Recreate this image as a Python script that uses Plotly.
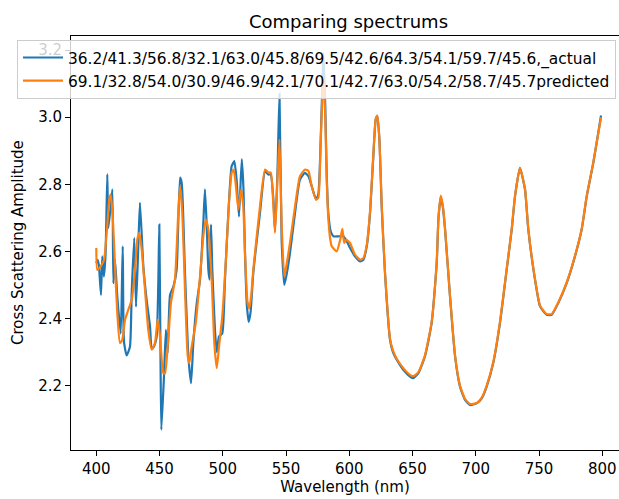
import plotly.graph_objects as go

# Wavelength (nm) / amplitude for the measured ("actual") spectrum
actual_wl = [400, 401, 402, 403.7, 404.7, 406, 407.3, 408.7, 409.5, 411.4, 412.7, 413.5, 414.8,
             416.6, 419.3, 420.9, 421.9, 424, 426.6, 428, 430, 431.4, 433.2, 434.5, 437.2,
             439.8, 442.5, 443.8, 445.5, 447.7, 449, 449.8, 450.7, 451.4, 453.5, 455, 456.4,
             458.3, 461, 463.5, 466.2, 467.5, 470.1, 472.8, 474.9, 476.7, 479.4, 482, 484.6,
             485.9, 487.3, 488.6, 489.6, 490.7, 491.7, 493.8, 495.2, 497, 499.6, 501.7, 504.4,
             507, 509.1, 510.9, 512.8, 515, 516.3, 517.5, 519, 520.5, 522, 524.1, 529.4,
             533.4, 536, 537.9, 540, 541.3, 543.2, 544.8, 546.5, 548.6, 550.4, 553.1, 557.1,
             561, 565, 567.7, 570.3, 573.7, 575.5, 577.4, 579, 579.5, 581, 582.1, 583.4,
             585.3, 587.4, 591.3, 595.3, 598, 600.6, 604.5, 608.5, 611.1, 613.8, 616.4, 619,
             620.9, 622.2, 623.8, 625.6, 628.2, 632.2, 634.5, 637.5, 642.7, 648, 650.6, 654.6,
             659.8, 665.1, 669.1, 670.5, 672.3, 674, 675.7, 679.6, 683.6, 687.5, 691.5, 695.4,
             700.7, 704.7, 708.6, 713.8, 719.1, 724.4, 728.4, 731, 734.9, 738.9, 741.5, 746.8,
             750.8, 756, 760, 765.2, 771.9, 778.4, 783.7, 787.7, 792.9, 799]
actual_amp = [2.565, 2.575, 2.56, 2.47, 2.585, 2.525, 2.59, 2.83, 2.67, 2.735, 2.785, 2.505, 2.575,
              2.465, 2.355, 2.615, 2.33, 2.29, 2.316, 2.48, 2.64, 2.435, 2.615, 2.745, 2.555,
              2.455, 2.375, 2.31, 2.316, 2.345, 2.505, 2.68, 2.31, 2.068, 2.227, 2.366, 2.297,
              2.47, 2.496, 2.545, 2.82, 2.805, 2.536, 2.287, 2.207, 2.327, 2.446, 2.516, 2.685,
              2.785, 2.675, 2.545, 2.516, 2.68, 2.545, 2.366, 2.3, 2.346, 2.356, 2.516, 2.715,
              2.854, 2.869, 2.814, 2.704, 2.875, 2.79, 2.6, 2.44, 2.39, 2.42, 2.536, 2.715,
              2.839, 2.829, 2.829, 2.754, 2.66, 2.834, 3.07, 2.635, 2.5, 2.53, 2.595, 2.715,
              2.814, 2.834, 2.824, 2.794, 2.755, 2.77, 2.933, 3.133, 3.19, 3.033, 2.834, 2.715,
              2.66, 2.645, 2.645, 2.645, 2.63, 2.61, 2.585, 2.57, 2.575, 2.615, 2.715, 2.884,
              2.993, 3.003, 2.933, 2.734, 2.536, 2.336, 2.3, 2.277, 2.247, 2.227, 2.222, 2.237,
              2.287, 2.386, 2.565, 2.70, 2.762, 2.73, 2.665, 2.466, 2.287, 2.197, 2.157, 2.142,
              2.147, 2.162, 2.197, 2.267, 2.386, 2.545, 2.665, 2.764, 2.849, 2.784, 2.665, 2.516,
              2.436, 2.411, 2.411, 2.446, 2.506, 2.585, 2.665, 2.764, 2.864, 3.005]

# Wavelength (nm) / amplitude for the predicted spectrum
pred_wl = [400, 400.8, 403.4, 406.1, 408.2, 410.3, 411.4, 413, 414.8, 416.6, 418.7, 420.5, 422.7,
           425.3, 428, 430.6, 432.4, 434, 435.9, 438.5, 441.1, 443.8, 446.4, 448.5, 450.4,
           453, 454.3, 457, 459, 462.2, 464.8, 466.2, 468, 470.1, 472.3, 473.5, 475.4, 478.6,
           482, 484.6, 486.5, 488.6, 491.2, 493.3, 495.2, 497, 499.6, 502.3, 504.9, 507,
           508.6, 510.4, 512.3, 514.4, 516.2, 517.5, 519.5, 521, 522.5, 524.1, 529.4, 533.4,
           536, 537.9, 540, 541.3, 543.2, 544.8, 546.5, 548.6, 550.4, 553.1, 557.1, 561, 565,
           567.7, 570.3, 573.7, 575.5, 577.4, 579, 579.6, 581, 582.1, 583.4, 584.8, 586.1,
           590, 592.8, 594.5, 596, 597.6, 600.6, 604.5, 608.5, 611.1, 613.8, 616.4, 619,
           620.9, 622.2, 623.8, 625.6, 628.2, 632.2, 634.5, 637.5, 642.7, 648, 650.6, 654.6,
           659.8, 665.1, 669.1, 670.5, 672.3, 674, 675.7, 679.6, 683.6, 687.5, 691.5, 695.4,
           700.7, 704.7, 708.6, 713.8, 719.1, 724.4, 728.4, 731, 734.9, 738.9, 741.5, 746.8,
           750.8, 756, 760, 765.2, 771.9, 778.4, 783.7, 787.7, 792.9, 799]
pred_amp = [2.61, 2.545, 2.555, 2.575, 2.655, 2.754, 2.77, 2.704, 2.555, 2.416, 2.327, 2.336, 2.396,
            2.426, 2.456, 2.545, 2.635, 2.655, 2.605, 2.486, 2.366, 2.307, 2.327, 2.396, 2.346,
            2.237, 2.237, 2.346, 2.446, 2.516, 2.715, 2.794, 2.715, 2.486, 2.287, 2.267, 2.316,
            2.386, 2.525, 2.645, 2.695, 2.665, 2.516, 2.327, 2.252, 2.316, 2.406, 2.565, 2.745,
            2.834, 2.844, 2.794, 2.725, 2.784, 2.734, 2.6, 2.45, 2.43, 2.47, 2.545, 2.734, 2.844,
            2.835, 2.835, 2.734, 2.655, 2.814, 2.933, 2.685, 2.525, 2.56, 2.625, 2.734, 2.824,
            2.844, 2.84, 2.794, 2.754, 2.76, 2.93, 3.09, 3.12, 3.0, 2.82, 2.70, 2.64, 2.615,
            2.6, 2.635, 2.667, 2.625, 2.635, 2.625, 2.59, 2.575, 2.58, 2.62, 2.72, 2.89,
            2.995, 3.005, 2.935, 2.74, 2.54, 2.34, 2.305, 2.28, 2.252, 2.232, 2.228, 2.24,
            2.29, 2.39, 2.57, 2.70, 2.766, 2.735, 2.668, 2.468, 2.29, 2.2, 2.16, 2.145,
            2.148, 2.164, 2.2, 2.27, 2.39, 2.548, 2.668, 2.766, 2.848, 2.786, 2.668, 2.518,
            2.438, 2.413, 2.413, 2.448, 2.508, 2.587, 2.667, 2.766, 2.866, 3.0]

actual_name = "36.2/41.3/56.8/32.1/63.0/45.8/69.5/42.6/64.3/54.1/59.7/45.6,_actual"
pred_name = "69.1/32.8/54.0/30.9/46.9/42.1/70.1/42.7/63.0/54.2/58.7/45.7predicted"
x_ticks = [400, 450, 500, 550, 600, 650, 700, 750, 800]
y_ticks = [2.2, 2.4, 2.6, 2.8, 3.0, 3.2]

fig = go.Figure()
fig.add_trace(go.Scatter(x=actual_wl, y=actual_amp, mode="lines", name=actual_name,
                         hoverinfo="skip",
                         line=dict(color="#1f77b4", width=2.2, shape="spline", smoothing=0.5)))
fig.add_trace(go.Scatter(x=pred_wl, y=pred_amp, mode="lines", name=pred_name,
                         hoverinfo="skip",
                         line=dict(color="#ff7f0e", width=2.2, shape="spline", smoothing=0.5)))

axis_common = dict(showgrid=False, zeroline=False, showline=True, linecolor="black",
                   linewidth=1, ticks="outside", ticklen=5, tickwidth=1, tickcolor="black",
                   tickfont=dict(size=15, color="black"), automargin=False)

fig.update_layout(
    width=619, height=499,
    margin=dict(l=71, r=0, t=36, b=49, pad=0, autoexpand=False),
    paper_bgcolor="white", plot_bgcolor="white",
    hovermode=False,
    font=dict(family="DejaVu Sans", color="black"),
    title=dict(text="Comparing spectrums", font=dict(size=18, color="black"),
               xref="container", x=348.5 / 619, xanchor="center",
               yref="container", y=1 - 22 / 499, yanchor="middle"),
    xaxis=dict(range=[380.0, 813.2], tickvals=x_ticks, mirror=True,
               title=dict(text="Wavelength (nm)", font=dict(size=15), standoff=2),
               **axis_common),
    yaxis=dict(range=[2.008, 3.242], tickvals=y_ticks, tickformat=".1f", mirror=False,
               **axis_common),
    annotations=[dict(text="Cross Scattering Amplitude", textangle=-90,
                      xref="paper", yref="paper", x=(18 - 71) / 548, y=0.5,
                      xanchor="center", yanchor="middle", showarrow=False,
                      font=dict(size=15, color="black"))],
    legend=dict(xref="container", yref="container", x=17 / 619, y=1 - 40 / 499,
                xanchor="left", yanchor="top",
                bgcolor="rgba(255,255,255,0.8)", bordercolor="#cccccc", borderwidth=1,
                font=dict(size=15.4, color="black"), itemwidth=40),
    showlegend=True,
)

fig.write_html("out.html", config={"displayModeBar": False, "staticPlot": True},
               post_script="document.body.style.margin='0';document.body.style.overflow='hidden';")
